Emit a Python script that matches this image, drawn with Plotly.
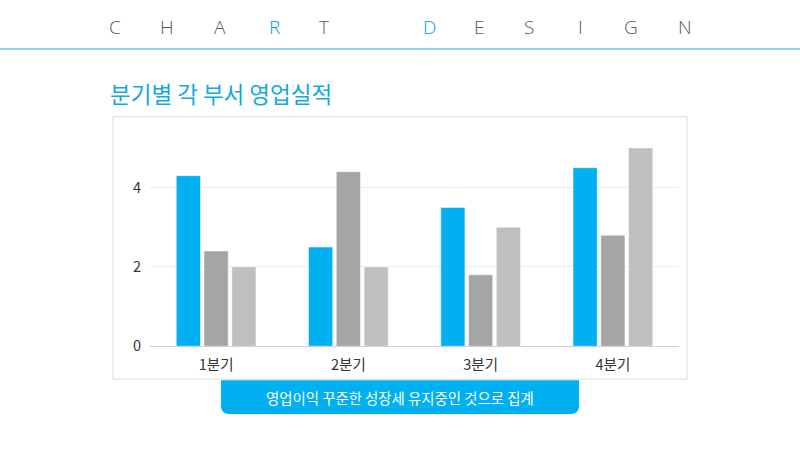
import plotly.graph_objects as go

categories = ["1분기", "2분기", "3분기", "4분기"]
series_blue = [4.3, 2.5, 3.5, 4.5]
series_gray = [2.4, 4.4, 1.8, 2.8]
series_light = [2.0, 2.0, 3.0, 5.0]
y_ticks = [0, 2, 4]
header_letters = ["C", "H", "A", "R", "T", "D", "E", "S", "I", "G", "N"]
header_x = [115, 167, 220, 274, 324, 429, 479, 529, 580, 631, 685]
header_colors = ["#595959"] * 3 + ["#00a0e0"] + ["#595959"] + ["#00a0e0"] + ["#595959"] * 5
title_text = "분기별 각 부서 영업실적"
caption_text = "영업이익 꾸준한 성장세 유지중인 것으로 집계"

W, H = 800, 449
H_EFF, OFF = 441.0, -1.0   # observed effective rendering height
KR = "Noto Sans CJK KR"

def px(x):
    return x / W

def py(y):
    return 1 - (y - OFF) / H_EFF

fig = go.Figure()
for name, vals, col in [("A", series_blue, "#00b0f0"),
                        ("B", series_gray, "#a5a5a5"),
                        ("C", series_light, "#bfbfbf")]:
    fig.add_trace(go.Bar(x=categories, y=vals, name=name, marker_color=col,
                         marker_line=dict(color="rgba(255,255,255,0.6)", width=0.8)))

y0_px, unit = 346, 39.75
ymax = 5.5
ytop_px = y0_px - ymax * unit

shapes = []
shapes.append(dict(type="line", xref="paper", yref="paper", x0=0, x1=1, y0=py(48), y1=py(48),
                   line=dict(color="#8fd3f0", width=2)))
shapes.append(dict(type="rect", xref="paper", yref="paper", x0=px(113), x1=px(687),
                   y0=py(379), y1=py(116), line=dict(color="#dcdcdc", width=1),
                   fillcolor="white", layer="below"))
l, r, t, b = 221, 579, 380, 414
rad = 8
rx, ry = rad / W, rad / H_EFF
path = (f"M {px(l)},{py(t)} L {px(r)},{py(t)} L {px(r)},{py(b) + ry} "
        f"Q {px(r)},{py(b)} {px(r) - rx},{py(b)} L {px(l) + rx},{py(b)} "
        f"Q {px(l)},{py(b)} {px(l)},{py(b) + ry} Z")
shapes.append(dict(type="path", xref="paper", yref="paper", path=path,
                   fillcolor="#00b0f0", line=dict(width=0)))

annotations = []
for ch, x, c in zip(header_letters, header_x, header_colors):
    annotations.append(dict(text=ch, x=px(x), y=py(26), xref="paper", yref="paper",
                            showarrow=False, xanchor="center", yanchor="middle",
                            font=dict(family="Open Sans, " + KR, size=19, color=c, weight=300)))
annotations.append(dict(text=title_text, x=px(108), y=py(92), xref="paper", yref="paper",
                        showarrow=False, xanchor="left", yanchor="middle",
                        font=dict(family=KR, size=22.5, color="#12a8e3")))
annotations.append(dict(text=caption_text, x=px(400), y=py(397), xref="paper", yref="paper",
                        showarrow=False, xanchor="center", yanchor="middle",
                        font=dict(family=KR, size=14.4, color="white")))

fig.update_layout(
    width=W, height=H,
    margin=dict(l=0, r=0, t=0, b=0),
    paper_bgcolor="white", plot_bgcolor="rgba(0,0,0,0)",
    showlegend=False,
    barmode="group", bargap=0.37, bargroupgap=0.13,
    shapes=shapes, annotations=annotations,
    font=dict(family=KR, color="#333333"),
    xaxis=dict(domain=[px(150), px(679)], showline=True, linecolor="#d0d0d0", linewidth=1,
               ticks="", ticklabelstandoff=5, tickfont=dict(size=14.5, color="#333333"),
               fixedrange=True),
    yaxis=dict(domain=[py(y0_px), py(ytop_px)], range=[0, ymax], tickvals=y_ticks,
               showgrid=True, gridcolor="#ececec", zeroline=False, showline=False,
               ticks="", ticklabelstandoff=8, tickfont=dict(size=14.5, color="#333333")),
)

fig.write_html("out.html")
